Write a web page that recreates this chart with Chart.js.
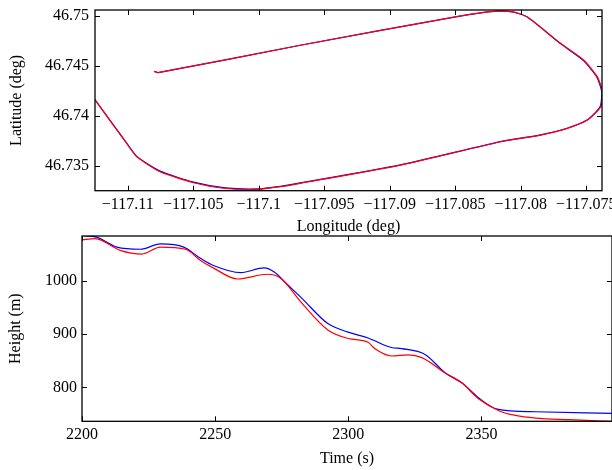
<!DOCTYPE html>
<html>
<head>
<meta charset="utf-8">
<script src="https://cdn.jsdelivr.net/npm/chart.js@4/dist/chart.umd.min.js"></script>
<style>
html, body { margin: 0; padding: 0; background: #fff; }
#wrap { position: relative; width: 612px; height: 470px; }
canvas { position: absolute; left: 0; }
</style>
</head>
<body>
<div id="wrap">
<canvas id="trackChart" width="612" height="240" style="top:0"></canvas>
<canvas id="heightChart" width="612" height="238" style="top:232px"></canvas>
</div>
<script>
// track (lon/lat)
const redLon = [-117.10799, -117.10768, -117.09683, -117.08498, -117.08307, -117.08177, -117.08062, -117.0795, -117.07695, -117.07519, -117.07415, -117.07376, -117.07389, -117.07491, -117.07644, -117.07848, -117.08154, -117.08918, -117.09683, -117.09836, -117.10006, -117.10256, -117.10498, -117.10753, -117.10931, -117.11008, -117.11248, -117.11326];
const redLat = [46.74447, 46.74432, 46.74707, 46.74992, 46.75032, 46.75049, 46.75042, 46.7499, 46.74724, 46.74557, 46.7439, 46.7424, 46.7409, 46.73957, 46.73874, 46.73807, 46.7374, 46.73507, 46.73324, 46.7329, 46.73264, 46.73272, 46.7333, 46.7344, 46.7359, 46.73724, 46.74157, 46.74297];
const blueLon = [-117.10799, -117.10768, -117.09683, -117.08498, -117.08307, -117.08177, -117.08062, -117.0795, -117.07698, -117.07524, -117.0742, -117.07382, -117.07395, -117.07495, -117.07646, -117.07848, -117.08154, -117.08918, -117.09683, -117.09836, -117.10006, -117.10256, -117.10498, -117.10753, -117.10931, -117.11008, -117.11248, -117.11326];
const blueLat = [46.74447, 46.74432, 46.74707, 46.74992, 46.75032, 46.75049, 46.75042, 46.7499, 46.74724, 46.74557, 46.7439, 46.7424, 46.7409, 46.73957, 46.73876, 46.73809, 46.73742, 46.73509, 46.73328, 46.73294, 46.73268, 46.73278, 46.73336, 46.73446, 46.73594, 46.73726, 46.74157, 46.74297];

// height over time
const blueTime = [2200, 2205.5, 2213.1, 2221.9, 2229.4, 2238.2, 2244.5, 2249.6, 2259.6, 2268.4, 2272.2, 2276.6, 2282.3, 2292.3, 2299.9, 2307.4, 2316.2, 2320, 2328.8, 2336.4, 2342.7, 2349, 2355.9, 2370.3, 2399];
const blueHeight = [1086, 1083, 1064, 1060, 1070, 1064, 1043, 1029, 1016, 1025, 1017, 996, 969, 920, 904, 893, 875, 873, 862, 827, 808, 780, 759, 754, 751];
const redTime = [2200, 2204.9, 2214.3, 2222.5, 2229.4, 2238.9, 2244.5, 2249.6, 2258.4, 2269.7, 2274.7, 2282.3, 2292.3, 2299.9, 2307.4, 2309.9, 2316.2, 2322.5, 2327.6, 2336.4, 2342.7, 2349, 2356.5, 2362.8, 2370.3, 2382.9, 2399];
const redHeight = [1078, 1080, 1058, 1051, 1064, 1060, 1039, 1024, 1004, 1013, 1005, 960, 908, 892, 885, 873, 859, 861, 856, 827, 808, 778, 756, 747, 742, 739, 736];

// tick labels
const lonTicks = [-117.11, -117.105, -117.1, -117.095, -117.09, -117.085, -117.08, -117.075];
const latTicks = [46.735, 46.74, 46.745, 46.75];
const timeTicks = [2200, 2250, 2300, 2350];
const heightTicks = [800, 900, 1000];

Chart.defaults.font.family = "'Liberation Serif', 'Times New Roman', serif";
Chart.defaults.font.size = 16;
Chart.defaults.color = '#000';

const pts = (xs, ys) => xs.map((x, i) => ({ x: x, y: ys[i] }));
const minus = v => String(v).replace('-', '\u2212');

// matplotlib-like box with inward ticks on all four sides
const framePlugin = {
  id: 'frame',
  afterDatasetsDraw(chart) {
    const { ctx, chartArea: a, scales } = chart;
    ctx.save();
    ctx.strokeStyle = '#000';
    ctx.lineWidth = 1;
    ctx.beginPath();
    scales.x.ticks.forEach(t => {
      const px = Math.round(scales.x.getPixelForValue(t.value)) + 0.5;
      ctx.moveTo(px, a.bottom); ctx.lineTo(px, a.bottom - 5);
      ctx.moveTo(px, a.top); ctx.lineTo(px, a.top + 5);
    });
    scales.y.ticks.forEach(t => {
      const py = Math.round(scales.y.getPixelForValue(t.value)) + 0.5;
      ctx.moveTo(a.left, py); ctx.lineTo(a.left + 5, py);
      ctx.moveTo(a.right, py); ctx.lineTo(a.right - 5, py);
    });
    ctx.stroke();
    ctx.lineWidth = 1.3;
    ctx.strokeRect(a.left, a.top, a.right - a.left, a.bottom - a.top);
    ctx.restore();
  }
};

function axis(opts) {
  return {
    type: 'linear',
    min: opts.min,
    max: opts.max,
    grid: { display: false, drawTicks: false },
    border: { display: false },
    afterBuildTicks: s => { s.ticks = opts.ticks.map(v => ({ value: v })); },
    afterFit: s => {
      if (opts.width) s.width = opts.width;
      if (opts.height) s.height = opts.height;
      // labels may hang past the plot box, as in the original
      s.paddingLeft = s.paddingRight = s.paddingTop = s.paddingBottom = 0;
    },
    ticks: { autoSkip: false, maxRotation: 0, padding: opts.pad, callback: opts.fmt || (v => String(v)) },
    title: { display: true, text: opts.title, padding: opts.titlePad }
  };
}

new Chart(document.getElementById('trackChart'), {
  type: 'scatter',
  data: {
    datasets: [
      { data: pts(redLon, redLat), borderColor: '#ff0000', borderWidth: 1.2, showLine: true, pointRadius: 0, tension: 0.2 },
      { data: pts(blueLon, blueLat), borderColor: '#0000ff', borderWidth: 1.2, showLine: true, pointRadius: 0, tension: 0.2 }
    ]
  },
  options: {
    responsive: false,
    animation: false,
    devicePixelRatio: 1,
    layout: { padding: { top: 10, right: 10, left: 0, bottom: 0 } },
    plugins: { legend: { display: false }, tooltip: { enabled: false } },
    scales: {
      x: axis({ min: -117.1125, max: -117.0738, ticks: lonTicks, height: 49.3, pad: 4, fmt: minus,
                title: 'Longitude (deg)', titlePad: { top: 0, bottom: 4 } }),
      y: axis({ min: 46.7325, max: 46.7506, ticks: latTicks, width: 95, pad: 6,
                title: 'Latitude (deg)', titlePad: { top: 7, bottom: 0 } })
    }
  },
  plugins: [framePlugin]
});

new Chart(document.getElementById('heightChart'), {
  type: 'scatter',
  data: {
    datasets: [
      { data: pts(redTime, redHeight), borderColor: '#ff0000', borderWidth: 1.2, showLine: true, pointRadius: 0, cubicInterpolationMode: 'monotone' },
      { data: pts(blueTime, blueHeight), borderColor: '#0000ff', borderWidth: 1.2, showLine: true, pointRadius: 0, cubicInterpolationMode: 'monotone' }
    ]
  },
  options: {
    responsive: false,
    animation: false,
    devicePixelRatio: 1,
    layout: { padding: { top: 4, right: 0, left: 0, bottom: 0 } },
    plugins: { legend: { display: false }, tooltip: { enabled: false } },
    scales: {
      x: axis({ min: 2200, max: 2399, ticks: timeTicks, height: 48.7, pad: 4,
                title: 'Time (s)', titlePad: { top: 0, bottom: 2 } }),
      y: axis({ min: 736, max: 1085, ticks: heightTicks, width: 82, pad: 5,
                title: 'Height (m)', titlePad: { top: 6, bottom: 0 } })
    }
  },
  plugins: [framePlugin]
});
</script>
</body>
</html>
